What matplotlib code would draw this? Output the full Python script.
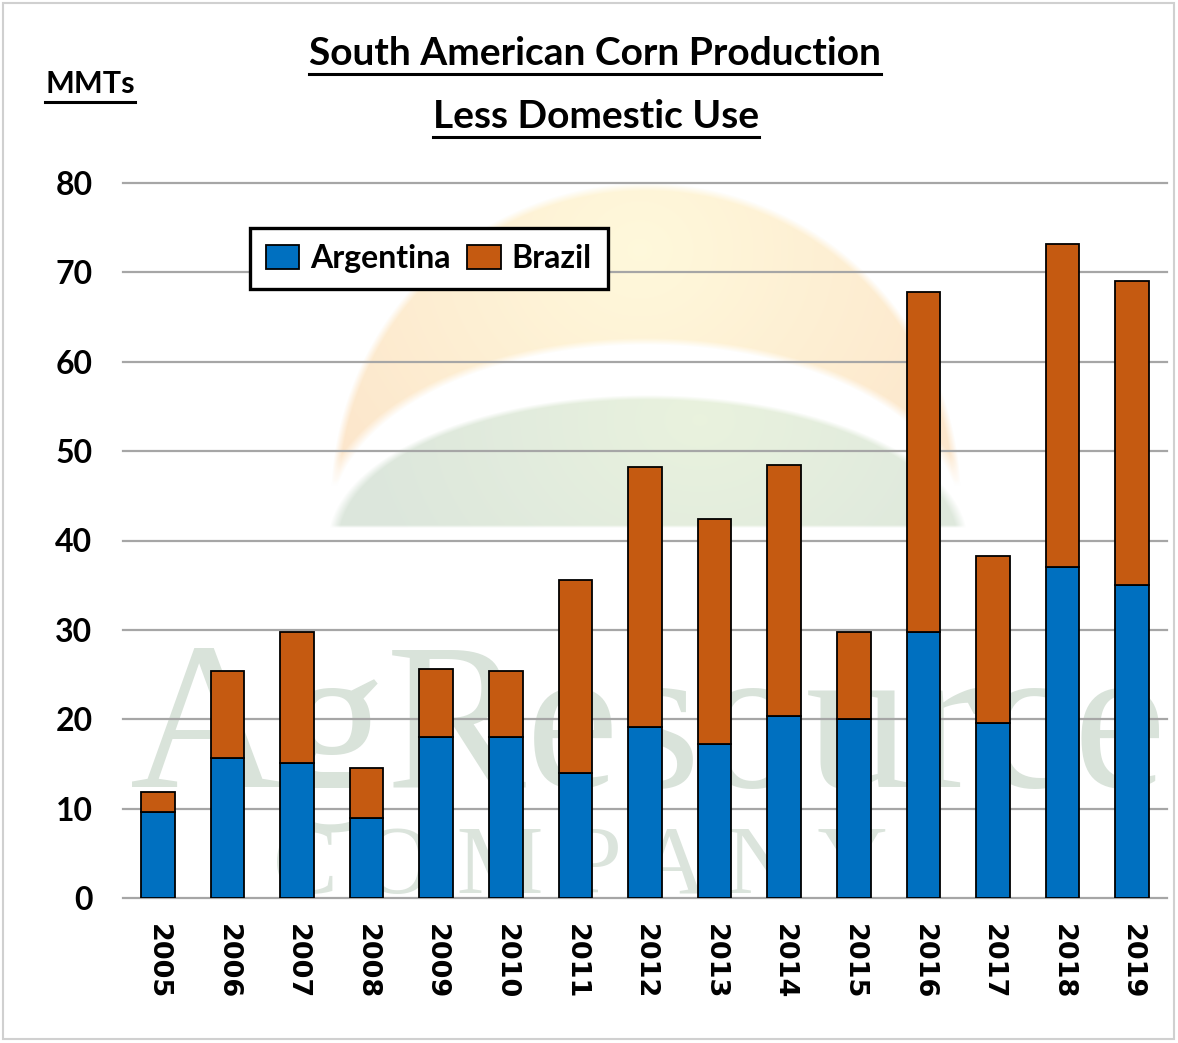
import numpy as np
import matplotlib
matplotlib.use('Agg')
import matplotlib.pyplot as plt
from matplotlib.lines import Line2D
from matplotlib.patches import Rectangle
from matplotlib.legend_handler import HandlerPatch

# Corn exports available (production less domestic use), million metric tons
years = ['2005', '2006', '2007', '2008', '2009', '2010', '2011', '2012',
         '2013', '2014', '2015', '2016', '2017', '2018', '2019']
argentina = [9.6, 15.7, 15.1, 9.0, 18.0, 18.0, 14.0, 19.1,
             17.2, 20.4, 20.0, 29.8, 19.6, 37.0, 35.0]
brazil = [2.3, 9.7, 14.7, 5.5, 7.6, 7.4, 21.6, 29.1,
          25.2, 28.1, 9.8, 38.0, 18.7, 36.2, 34.0]

W, H = 1178, 1043
NARROW = ['Liberation Sans Narrow', 'Lato', 'DejaVu Sans']
SERIF = ['Liberation Serif', 'DejaVu Serif']

fig = plt.figure(figsize=(W / 100, H / 100), dpi=100)

# background layer in pixel coordinates: logo watermark
bg = fig.add_axes([0, 0, 1, 1], zorder=0)
bg.set_xlim(0, W)
bg.set_ylim(H, 0)
bg.axis('off')

yy, xx = np.mgrid[0:H, 0:W] + 0.5
img = np.ones((H, W, 3))

# sun band
r_out = np.sqrt(((xx - 646) / 315) ** 2 + ((yy - 500) / 317) ** 2)
r_in = np.sqrt(((xx - 646) / 315) ** 2 + ((yy - 522) / 177) ** 2)
a_sun = np.clip((1 - r_out) * 40, 0, 1) * np.clip((r_in - 1) * 25, 0, 1)
a_sun *= np.clip((486 - yy) / 6, 0, 1)
t = np.clip(np.hypot(xx - 640, (yy - 250) * 1.1) / 360, 0, 1)[..., None]
sun_col = (1 - t) * np.array([1.0, 0.975, 0.86]) + t * np.array([0.99, 0.905, 0.80])
img = img * (1 - a_sun[..., None]) + sun_col * a_sun[..., None]

# green hill
r_g = np.sqrt(((xx - 648) / 320) ** 2 + ((yy - 542) / 147) ** 2)
a_g = np.clip((1 - r_g) * 30, 0, 1) * np.clip((528 - yy) / 3, 0, 1)
t = np.clip(np.hypot(xx - 700, (yy - 420) * 1.3) / 330, 0, 1)[..., None]
hill_col = (1 - t) * np.array([0.915, 0.95, 0.87]) + t * np.array([0.865, 0.905, 0.865])
img = img * (1 - a_g[..., None]) + hill_col * a_g[..., None]

bg.imshow(img, extent=(0, W, H, 0), interpolation='bilinear', zorder=0)
brand = bg.text(130, 787, 'AgResource', family=SERIF, fontsize=150,
                color='#d9e3da', ha='left', va='baseline', zorder=1)
bg.text(580, 893, 'C O M P A N Y', family=SERIF, fontsize=70,
        color='#dbe4dc', ha='center', va='baseline', zorder=1)
bg.add_patch(Rectangle((3, 3), W - 7, H - 7, fill=False, edgecolor='#d0d0d0',
                       linewidth=1.5, zorder=2))

# main chart
ax = fig.add_axes([123 / W, 145 / H, 1044 / W, 715 / H], zorder=1)
ax.patch.set_alpha(0)
x = np.arange(len(years))
ax.bar(x, argentina, width=0.48, color='#0070C0', edgecolor='black',
       linewidth=1.3, label='Argentina', zorder=3)
ax.bar(x, brazil, width=0.48, bottom=argentina, color='#C55A11',
       edgecolor='black', linewidth=1.3, label='Brazil', zorder=3)

ax.set_xlim(-0.5, 14.5)
ax.set_ylim(0, 80)
ax.set_yticks(range(0, 81, 10))
ax.set_xticks(x)
ax.set_xticklabels(years, rotation=270, fontsize=19.5, fontweight='bold',
                   family='DejaVu Sans')
ax.set_yticklabels([str(v) for v in range(0, 81, 10)], fontsize=23,
                   fontweight='bold', family=NARROW)
ax.tick_params(axis='both', length=0)
ax.tick_params(axis='y', pad=22)
ax.tick_params(axis='x', pad=19)
ax.yaxis.grid(True, color='#a6a6a6', linewidth=1.6)
ax.set_axisbelow(True)
for gl in ax.get_ygridlines():
    gl.set_clip_on(False)
for s in ax.spines.values():
    s.set_visible(False)


def square_key(legend, orig_handle, xdescent, ydescent, width, height, fontsize):
    # small square key sitting at the right end of the handle box
    side = 0.53 * fontsize
    return Rectangle((-xdescent + width - side, -ydescent), side, height)


leg = ax.legend(loc='upper left', bbox_to_anchor=(0.1216, 0.937), ncol=2,
                fancybox=False, edgecolor='black', framealpha=1,
                borderaxespad=0, handlelength=1.05, handleheight=0.8,
                handletextpad=0.35, columnspacing=0.5, borderpad=0.5,
                handler_map={Rectangle: HandlerPatch(patch_func=square_key)},
                prop={'family': NARROW, 'weight': 'bold', 'size': 23})
leg.get_frame().set_linewidth(2.4)

# headings with underlines
heads = [
    fig.text(595 / W, 1 - 65 / H, 'South American Corn Production', ha='center',
             va='baseline', fontsize=28, fontweight='bold', family=NARROW),
    fig.text(596 / W, 1 - 128 / H, 'Less Domestic Use', ha='center',
             va='baseline', fontsize=28, fontweight='bold', family=NARROW),
    fig.text(45 / W, 1 - 93 / H, 'MMTs', ha='left', va='baseline',
             fontsize=22, fontweight='bold', family=NARROW),
]
fig.canvas.draw()
renderer = fig.canvas.get_renderer()

# fit the watermark word to the plot width
bw = brand.get_window_extent(renderer).width
brand.set_fontsize(150 * 1036 / bw)

for txt in heads:
    bb = txt.get_window_extent(renderer)
    y_line = txt.get_position()[1] * H - 9
    fig.add_artist(Line2D([bb.x0 / W, bb.x1 / W], [y_line / H, y_line / H],
                          color='black', linewidth=2.2,
                          transform=fig.transFigure))

fig.savefig('out.png', dpi=100)
